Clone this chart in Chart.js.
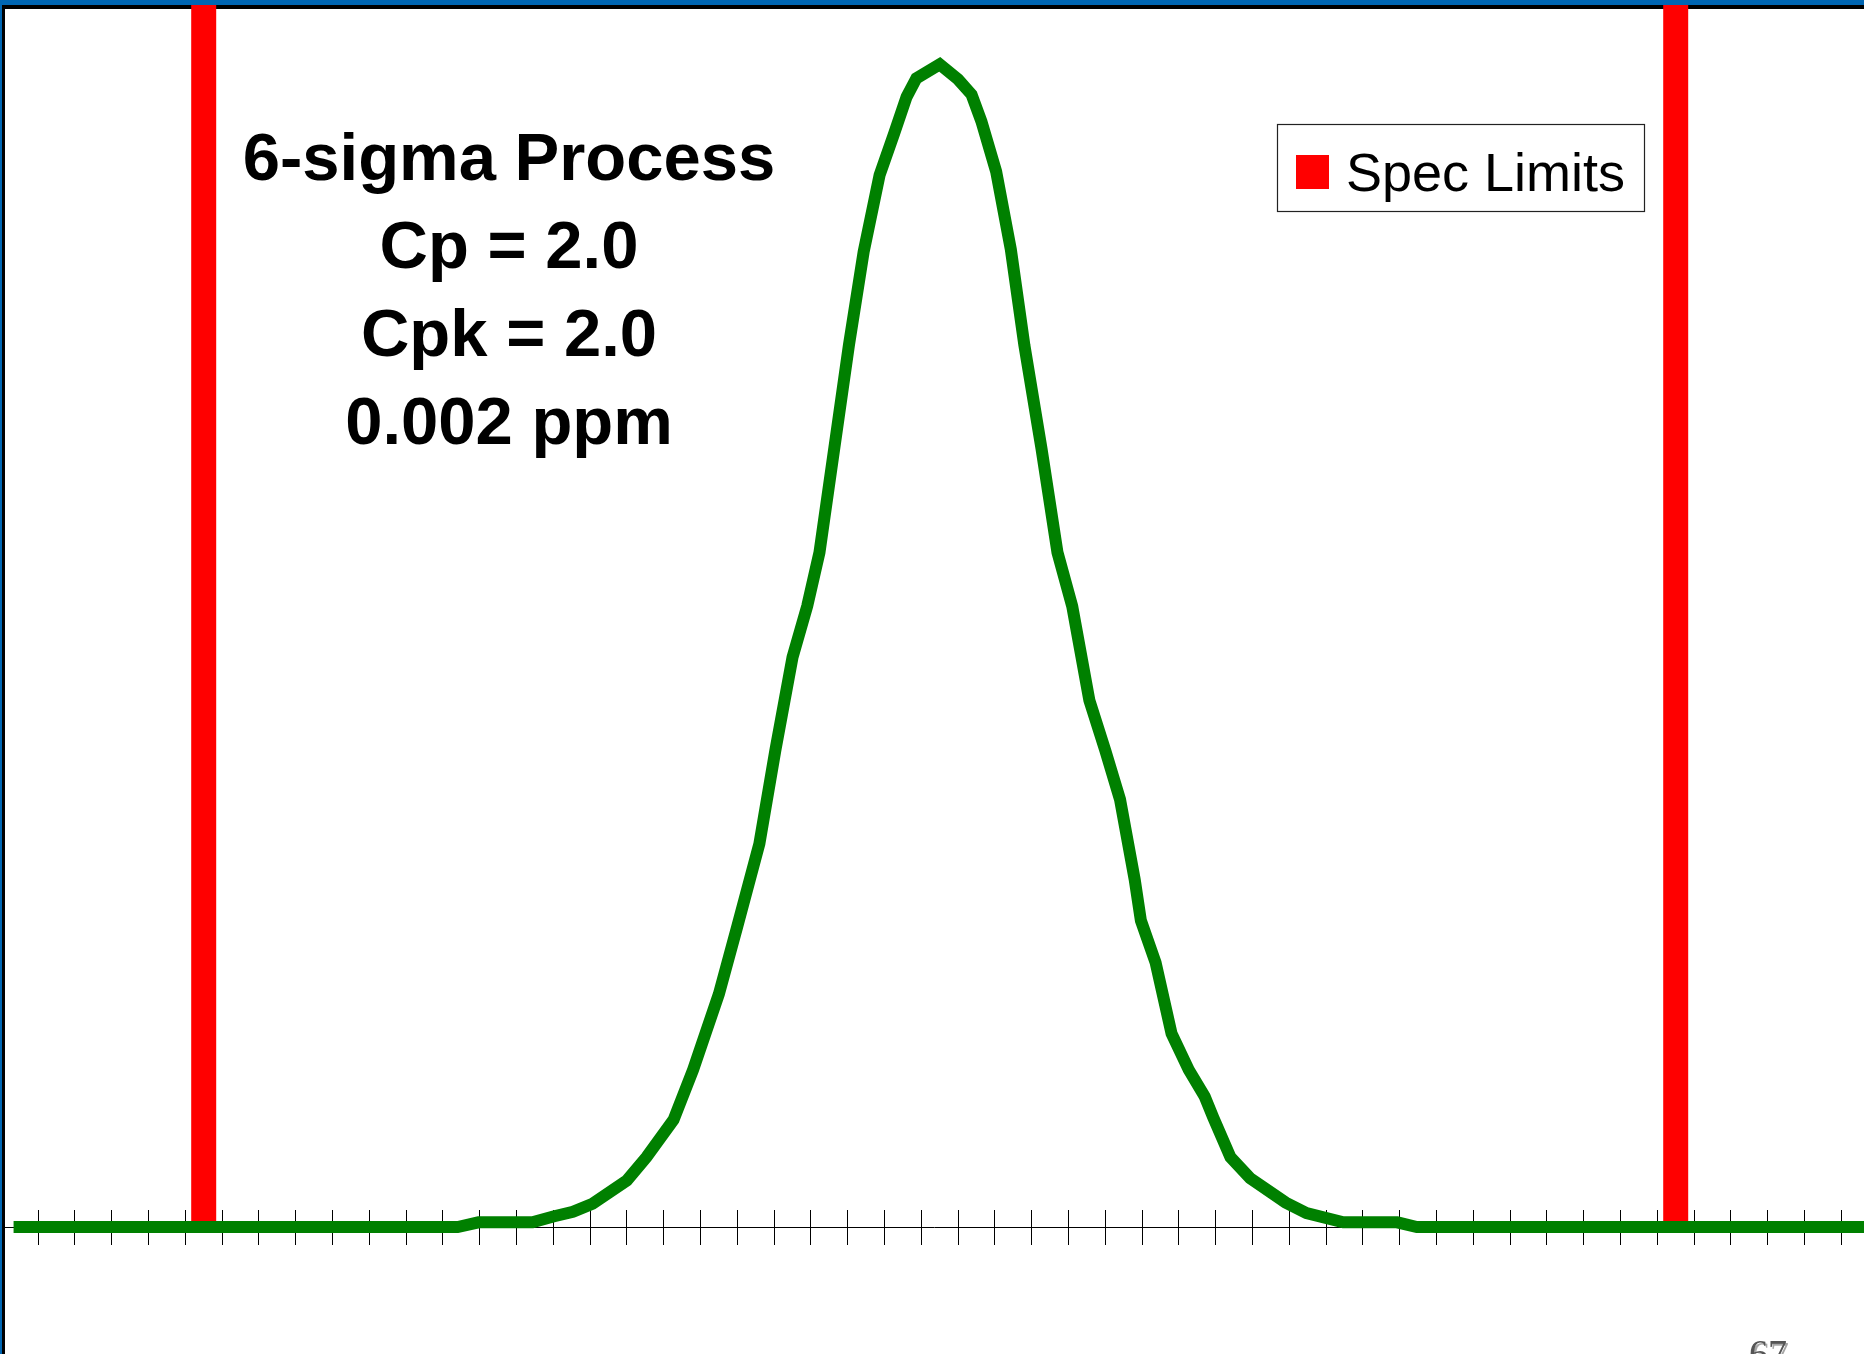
<!DOCTYPE html>
<html>
<head>
<meta charset="utf-8">
<title>6-sigma Process</title>
<script src="https://cdn.jsdelivr.net/npm/chart.js@4.4.1/dist/chart.umd.min.js"></script>
<style>
  html, body { margin: 0; padding: 0; background: #fff; }
  canvas { display: block; }
</style>
</head>
<body>
<canvas id="sigmaChart" width="1864" height="1354"></canvas>
<script>
; ((D) => {

  // process curve, x in sigma units, y in % of peak height
  let curveX = [-7.55, -3.93, -3.76, -3.32, -3.15, -2.99, -2.83, -2.55, -2.39, -2.17,
    -2.01, -1.80, -1.65, -1.47, -1.34, -1.20, -1.08, -0.98, -0.86, -0.74,
    -0.62, -0.49, -0.37, -0.27, -0.19, 0, 0.15, 0.26, 0.34, 0.46,
    0.58, 0.69, 0.83, 0.96, 1.08, 1.22, 1.35, 1.47, 1.59, 1.64,
    1.76, 1.89, 2.03, 2.16, 2.23, 2.37, 2.53, 2.82, 2.99, 3.29,
    3.73, 3.89, 7.55];
  let curveY = [0, 0, 0.4, 0.4, 0.9, 1.3, 2.0, 4.0, 6.0, 9.2,
    13.5, 20.0, 25.8, 32.9, 40.9, 48.9, 53.3, 57.9, 66.8, 75.7,
    83.7, 90.3, 93.9, 97.0, 98.6, 99.8, 98.5, 97.2, 94.9, 90.6,
    83.9, 75.7, 66.8, 57.9, 53.3, 45.2, 40.9, 36.7, 29.8, 26.3,
    22.7, 16.6, 13.5, 11.2, 9.4, 6.0, 4.2, 2.1, 1.2, 0.4,
    0.4, 0, 0];

  let specLimits = [-6, 6];
  let specTop = 105.3;

  // tick marks sit between the 0.3-sigma categories
  let tickValues = [];
  for (let k = 0; k < 50; k++) {
    tickValues.push((k - 24.5) * 0.3);
  }

  let noteLines = ["6-sigma Process", "Cp = 2.0", "Cpk = 2.0", "0.002 ppm"];
  let pageNumber = "67";

  let xMin = -7.628;
  let xMax = 7.535;
  let yMin = -10.9;
  let yMax = 105.32;

  let curve = curveX.map((x, i) => ({ x: x, y: curveY[i] }));

  let datasets = [{
    label: "",
    data: curve,
    borderColor: "#008000",
    borderWidth: 12,
    borderJoinStyle: "miter",
    pointRadius: 0,
    tension: 0,
    clip: false,
  }];
  for (const lim of specLimits) {
    datasets.push({
      label: "Spec Limits",
      data: [{ x: lim, y: 0 }, { x: lim, y: specTop }],
      borderColor: "#ff0000",
      backgroundColor: "#ff0000",
      borderWidth: 25,
      borderCapStyle: "butt",
      pointRadius: 0,
    });
  }

  let sans = '"Liberation Sans", Arial, sans-serif';

  let frame = {
    id: "frame",
    beforeDraw(chart) {
      let c = chart.ctx;
      c.save();
      c.fillStyle = "#fff";
      c.fillRect(0, 0, chart.width, chart.height);
      c.fillStyle = "#000";
      c.fillRect(2, 0, 3, chart.height);
      c.fillRect(0, 5, chart.width, 4);
      c.fillStyle = "#0066b3";
      c.fillRect(0, 0, 2, chart.height);
      c.restore();
    },
    afterDraw(chart) {
      let c = chart.ctx;
      c.save();
      c.fillStyle = "#0066b3";
      c.fillRect(0, 0, chart.width, 5);

      // notes
      c.fillStyle = "#000";
      c.font = "bold 67px " + sans;
      c.textAlign = "center";
      c.textBaseline = "alphabetic";
      noteLines.forEach((t, i) => c.fillText(t, 509, 180 + i * 88));

      // legend with box
      let seen = [];
      let items = chart.data.datasets.filter(ds => {
        if (!ds.label || seen.includes(ds.label)) return false;
        seen.push(ds.label);
        return true;
      });
      let bx = 1277, by = 124, bh = 87;
      c.strokeStyle = "#222";
      c.lineWidth = 1.2;
      c.strokeRect(bx + 0.5, by + 0.5, 367, bh);
      items.forEach((ds, i) => {
        c.fillStyle = ds.borderColor;
        c.fillRect(1296, 155 + i * bh, 33, 34);
        c.fillStyle = "#000";
        c.font = "54px " + sans;
        c.textAlign = "left";
        c.fillText(ds.label, 1346, 191 + i * bh);
      });

      // slide number, cut by the page edge
      c.font = '38px "Liberation Serif", "Times New Roman", serif';
      c.fillStyle = "#555";
      c.shadowColor = "rgba(0,0,0,0.35)";
      c.shadowOffsetX = 2;
      c.shadowOffsetY = 2;
      c.fillText(pageNumber, 1749, 1366);
      c.restore();
    }
  };

  let setTicks = scale => {
    scale.ticks = tickValues.map(v => ({ value: v }));
  };

  let ctx = D.querySelector("#sigmaChart").getContext("2d");

  let chart = new Chart(ctx, {
    type: "line",
    data: { datasets: datasets },
    options: {
      responsive: false,
      animation: false,
      devicePixelRatio: 1,
      layout: { padding: { left: 4, right: 0, top: 0, bottom: 0 } },
      plugins: {
        legend: { display: false },
        tooltip: { enabled: false },
      },
      scales: {
        x: {
          type: "linear",
          axis: "x",
          min: xMin,
          max: xMax,
          position: { y: 0 },
          afterBuildTicks: setTicks,
          ticks: { display: false },
          grid: { drawOnChartArea: false, drawTicks: true, tickLength: 17, color: "#000", lineWidth: 1 },
          border: { display: true, color: "#000", width: 1 },
        },
        xUp: {
          type: "linear",
          axis: "x",
          min: xMin,
          max: xMax,
          position: { y: 0 },
          afterBuildTicks: setTicks,
          ticks: { display: false },
          grid: { drawOnChartArea: false, drawTicks: true, tickLength: -17, color: "#000", lineWidth: 1 },
          border: { display: false },
        },
        y: {
          type: "linear",
          min: yMin,
          max: yMax,
          display: false,
        },
      },
    },
    plugins: [frame],
  });
})(document)
</script>
</body>
</html>
